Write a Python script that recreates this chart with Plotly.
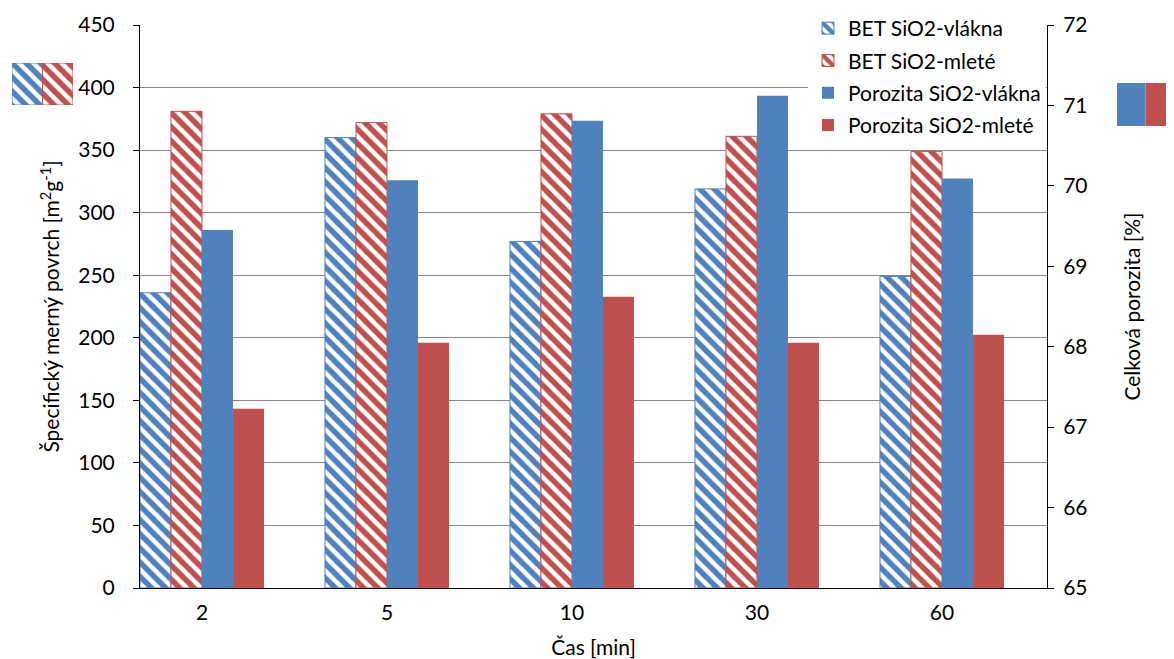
import plotly.graph_objects as go

# ---- data ----
categories = ["2", "5", "10", "30", "60"]
bet_vlakna = [236, 360, 277, 319, 249]          # m2/g, left axis
bet_mlete = [381, 372, 379, 361, 349]           # m2/g, left axis
por_vlakna = [69.45, 70.07, 70.81, 71.12, 70.09]  # %, right axis
por_mlete = [67.23, 68.05, 68.62, 68.05, 68.15]   # %, right axis
left_ticks = list(range(0, 451, 50))
right_ticks = list(range(65, 73))
swatch_values = [1, 1]

BLUE = "#4F81BD"
RED = "#C0504D"
FONT = "Lato"
OFF = 8                     # page body margin
W, H = 1174 - OFF, 659 - OFF

# plot area in page pixels
PX_L, PX_R, PX_T, PX_B = 140, 1047, 25, 588
def fx(px):
    return (px - OFF) / W
def fy(py):
    return 1 - (py - OFF) / H

bw = 0.1676  # bar width in category units
x_min = -0.335
x_max = x_min + (PX_R - PX_L) / 185.0

PAT = dict(shape="\\", bgcolor="white", size=10, solidity=0.55, fgopacity=1)

fig = go.Figure()

def hatched(name, y, color, k, lg):
    return go.Bar(
        name=name, x=categories, y=y, xaxis="x", yaxis="y",
        width=bw, offset=(k - 2) * bw, legendgroup=lg,
        marker=dict(color="white",
                    line=dict(color=color, width=1),
                    pattern=dict(fgcolor=color, **PAT)),
    )

def solid(name, y, color, k, lg):
    return go.Bar(
        name=name, x=categories, y=y, xaxis="x", yaxis="y2",
        width=bw, offset=(k - 2) * bw, legendgroup=lg,
        marker=dict(color=color, line=dict(width=0)),
    )

fig.add_trace(hatched("BET SiO2-vlákna", bet_vlakna, BLUE, 0, "a"))
fig.add_trace(hatched("BET SiO2-mleté", bet_mlete, RED, 1, "b"))
fig.add_trace(solid("Porozita SiO2-vlákna", por_vlakna, BLUE, 2, "c"))
fig.add_trace(solid("Porozita SiO2-mleté", por_mlete, RED, 3, "d"))

# decorative swatches beside the axis titles
fig.add_trace(go.Bar(x=[0, 1], y=swatch_values, xaxis="x3", yaxis="y3", width=1,
                     showlegend=False, hoverinfo="skip",
                     marker=dict(color="white",
                                 line=dict(color=[BLUE, RED], width=1),
                                 pattern=dict(fgcolor=[BLUE, RED], **PAT))))
fig.add_trace(go.Bar(x=[0, 1], y=swatch_values, xaxis="x4", yaxis="y4", width=1,
                     showlegend=False, hoverinfo="skip",
                     marker=dict(color=[BLUE, RED], line=dict(width=0))))

tickfont = dict(family=FONT, size=21, color="#000000")
titlefont = dict(family=FONT, size=21, color="#000000")

fig.update_layout(
    width=W, height=H,
    margin=dict(l=0, r=0, t=0, b=0, autoexpand=False),
    paper_bgcolor="white", plot_bgcolor="white",
    barmode="overlay",
    font=dict(family=FONT, color="#000000"),
    xaxis=dict(
        domain=[fx(PX_L), fx(PX_R)], type="category", automargin=False,
        range=[x_min, x_max], showline=True, linecolor="#000000", linewidth=1,
        ticks="", showgrid=False, zeroline=False, tickfont=tickfont,
        ticklabelstandoff=6,
        title=dict(text="Čas [min]", font=titlefont, standoff=20),
        anchor="y",
    ),
    yaxis=dict(
        domain=[fy(PX_B), fy(PX_T)], range=[0, 450], tickvals=left_ticks,
        automargin=False,
        showline=True, linecolor="#000000", linewidth=1,
        ticks="outside", ticklen=6, tickcolor="#000000",
        ticklabelstandoff=14,
        showgrid=True, gridcolor="#878787", gridwidth=1, zeroline=False,
        tickfont=tickfont,
        title=dict(text="Špecifický merný povrch [m<sup>2</sup>g<sup>-1</sup>]",
                   font=titlefont, standoff=12),
        anchor="x",
    ),
    yaxis2=dict(
        overlaying="y", side="right", anchor="x", range=[65, 72], tickvals=right_ticks,
        automargin=False,
        showline=True, linecolor="#000000", linewidth=1,
        ticks="outside", ticklen=6, tickcolor="#000000",
        ticklabelstandoff=5,
        showgrid=False, zeroline=False, tickfont=tickfont,
        title=dict(text="Celková porozita [%]", font=titlefont, standoff=38),
    ),
    xaxis3=dict(domain=[fx(12), fx(73)], range=[-0.5, 1.5], visible=False, anchor="y3"),
    yaxis3=dict(domain=[fy(105), fy(63)], range=[0, 1], visible=False, anchor="x3"),
    xaxis4=dict(domain=[fx(1117), 1.0], range=[-0.5, 1.5], visible=False, anchor="y4"),
    yaxis4=dict(domain=[fy(126), fy(83)], range=[0, 1], visible=False, anchor="x4"),
    legend=dict(
        x=fx(808), y=fy(8), xanchor="left", yanchor="top",
        bgcolor="white", borderwidth=0,
        font=dict(family=FONT, size=21, color="#000000"),
        traceorder="grouped", tracegroupgap=2,
    ),
    showlegend=True,
)

fig.write_html("out.html")
